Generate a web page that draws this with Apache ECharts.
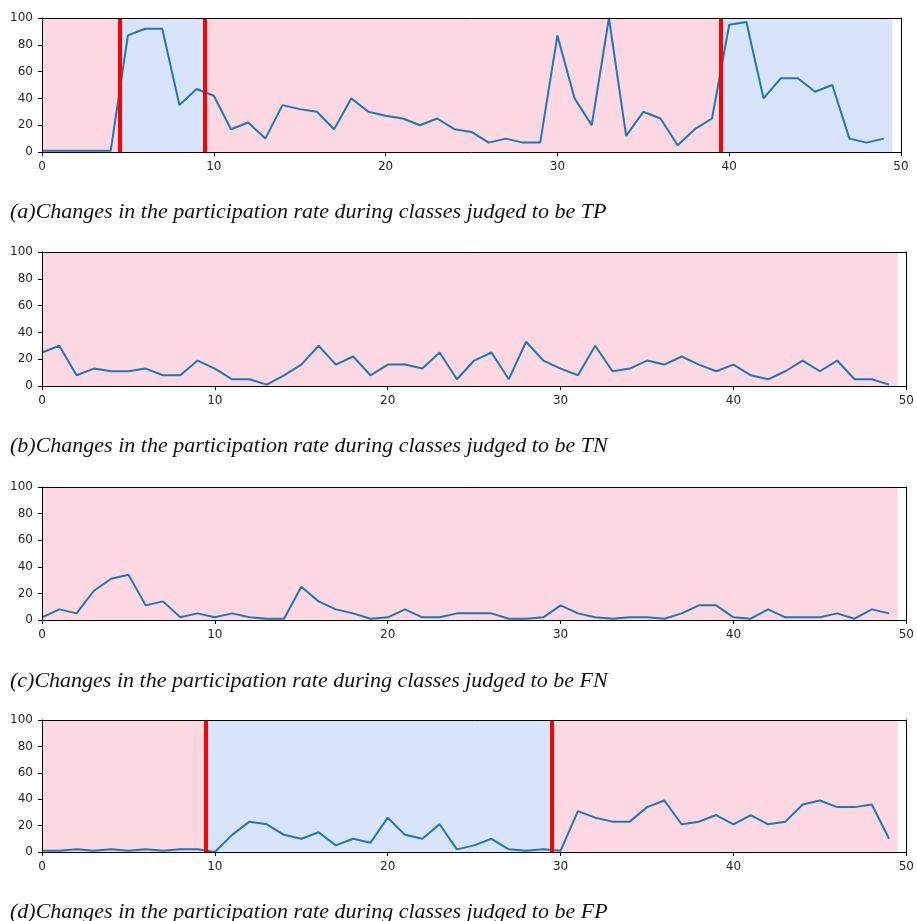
<!DOCTYPE html>
<html>
<head>
<meta charset="utf-8">
<script src="https://cdn.jsdelivr.net/npm/echarts@6/dist/echarts.min.js"></script>
<style>
html,body{margin:0;padding:0;background:#fff;}
#chart{width:917px;height:921px;}
</style>
</head>
<body>
<div id="chart"></div>
<script>
// ---- data ----
const classIndex = [0,1,2,3,4,5,6,7,8,9,10,11,12,13,14,15,16,17,18,19,20,21,22,23,24,25,26,27,28,29,30,31,32,33,34,35,36,37,38,39,40,41,42,43,44,45,46,47,48,49];
const tpRate = [1,1,1,1,1,87,92,92,35,47,42,17,22,10,35,32,30,17,40,30,27,25,20,25,17,15,7,10,7,7,87,40,20,100,12,30,25,5,17,25,95,97,40,55,55,45,50,10,7,10];
const tnRate = [25,30,8,13,11,11,13,8,8,19,13,5,5,1,8,16,30,16,22,8,16,16,13,25,5,19,25,5,33,19,13,8,30,11,13,19,16,22,16,11,16,8,5,11,19,11,19,5,5,1];
const fnRate = [2,8,5,22,31,34,11,14,2,5,2,5,2,1,1,25,14,8,5,1,2,8,2,2,5,5,5,1,1,2,11,5,2,1,2,2,1,5,11,11,2,1,8,2,2,2,5,1,8,5];
const fpRate = [1,1,2,1,2,1,2,1,2,2,0,13,23,21,13,10,15,5,10,7,26,13,10,21,2,5,10,2,1,2,1,31,26,23,23,34,39,21,23,28,21,28,21,23,36,39,34,34,36,10];

const tpSpans = [[0,4.5,'neg'],[4.5,9.5,'pos'],[9.5,39.5,'neg'],[39.5,49.5,'pos']];
const tnSpans = [[0,49.5,'neg']];
const fnSpans = [[0,49.5,'neg']];
const fpSpans = [[0,9.5,'neg'],[9.5,29.5,'pos'],[29.5,49.5,'neg']];
const tpCuts = [4.5, 9.5, 39.5];
const tnCuts = [];
const fnCuts = [];
const fpCuts = [9.5, 29.5];

const xTicks = [0,10,20,30,40,50];
const yTicks = [0,20,40,60,80,100];

const captions = [
  '(a)Changes in the participation rate during classes judged to be TP',
  '(b)Changes in the participation rate during classes judged to be TN',
  '(c)Changes in the participation rate during classes judged to be FN',
  '(d)Changes in the participation rate during classes judged to be FP'
];

// ---- layout / style ----
const panels = [
  {rate: tpRate, spans: tpSpans, cuts: tpCuts, grid:{left:42, right:16, top:18, height:134}, capY:210},
  {rate: tnRate, spans: tnSpans, cuts: tnCuts, grid:{left:42, right:8, top:252, height:134}, capY:444},
  {rate: fnRate, spans: fnSpans, cuts: fnCuts, grid:{left:42, right:8, top:487, height:133}, capY:679},
  {rate: fpRate, spans: fpSpans, cuts: fpCuts, grid:{left:42, right:8, top:720, height:132}, capY:910}
];
const spanColor = {neg:'#fcd8e2', pos:'#d8e4fa'};
const labelStyle = {fontFamily:'DejaVu Sans', fontSize:12, color:'#262626'};

const grid = [], xAxis = [], yAxis = [], series = [], graphic = [];
panels.forEach((p, i) => {
  grid.push(Object.assign({show:false}, p.grid));
  xAxis.push({
    type:'value', gridIndex:i, min:0, max:50, interval:10, position:'bottom',
    axisLine:{show:true, onZero:false, lineStyle:{color:'#000', width:1}},
    axisTick:{show:true, length:4, lineStyle:{color:'#000'}},
    axisLabel:Object.assign({margin:9}, labelStyle),
    splitLine:{show:false}, z:5
  });
  yAxis.push({
    type:'value', gridIndex:i, min:0, max:100, interval:20, position:'left',
    axisLine:{show:true, onZero:false, lineStyle:{color:'#000', width:1}},
    axisTick:{show:true, length:4, lineStyle:{color:'#000'}},
    axisLabel:Object.assign({margin:9}, labelStyle),
    splitLine:{show:false}, z:5
  });
  series.push({
    type:'line', xAxisIndex:i, yAxisIndex:i,
    data: classIndex.map((x, k) => [x, p.rate[k]]),
    showSymbol:false, symbol:'none',
    lineStyle:{color:'#1f77b4', width:2},
    silent:true, animation:false, z:3,
    markArea:{
      silent:true,
      data: p.spans.map(s => [{xAxis:s[0], itemStyle:{color:spanColor[s[2]]}}, {xAxis:s[1]}])
    },
    markLine:{
      silent:true, symbol:['none','none'], label:{show:false}, animation:false,
      lineStyle:{color:'#ff0000', width:4, type:'solid'},
      data: p.cuts.map(c => ({xAxis:c}))
    }
  });
  graphic.push({
    type:'text', left:10, top:p.capY - 9, z:10,
    style:{text:captions[i], font:'italic 22px "Liberation Serif"', fill:'#111'}
  });
});
// frame top/right lines
panels.forEach((p, i) => {
  xAxis.push({
    type:'value', gridIndex:i, min:0, max:50, position:'top',
    axisLine:{show:true, onZero:false, lineStyle:{color:'#000', width:1}},
    axisTick:{show:false}, axisLabel:{show:false}, splitLine:{show:false}, z:5
  });
  yAxis.push({
    type:'value', gridIndex:i, min:0, max:100, position:'right',
    axisLine:{show:true, onZero:false, lineStyle:{color:'#000', width:1}},
    axisTick:{show:false}, axisLabel:{show:false}, splitLine:{show:false}, z:5
  });
});

const chart = echarts.init(document.getElementById('chart'), null, {renderer:'canvas'});
chart.setOption({
  animation:false,
  backgroundColor:'#fff',
  grid, xAxis, yAxis, series, graphic
});
</script>
</body>
</html>
